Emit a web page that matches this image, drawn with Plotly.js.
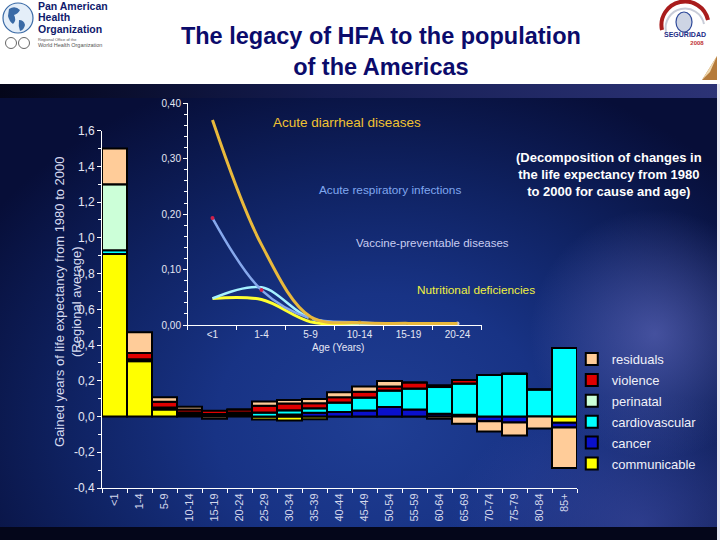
<!DOCTYPE html>
<html>
<head>
<meta charset="utf-8">
<script src="https://cdn.plot.ly/plotly-3.0.1.min.js"></script>
<style>
  html, body { margin: 0; padding: 0; width: 720px; height: 540px; overflow: hidden; background: #ffffff; }
  #bg {
    position: absolute; left: 0; top: 84px; width: 720px; height: 456px;
    background:
      radial-gradient(circle 125px at 655px 250px, rgba(112,118,205,0.55), rgba(112,118,205,0) 100%),
      radial-gradient(ellipse 190px 130px at 640px 440px, rgba(80,90,185,0.45), rgba(80,90,185,0) 100%),
      radial-gradient(ellipse 470px 370px at 380px 340px, #1f3e94 0%, #183385 35%, #0f2262 66%, #070e38 100%);
  }
  #band { position: absolute; left: 0; top: 84px; width: 720px; height: 14px;
    background: linear-gradient(90deg, #04061a 0%, #141c50 45%, #2c3376 100%); }
  #foot { position: absolute; left: 0; top: 527px; width: 720px; height: 13px; background: #04061a; }
  #edge { position: absolute; left: 717px; top: 84px; width: 3px; height: 456px; background: #e6e8f2; }
  #chart { position: absolute; left: 0; top: 0; width: 720px; height: 540px; }
  svg.logo { position: absolute; top: 0; }
</style>
</head>
<body>
<div id="bg"></div>
<div id="band"></div>
<div id="foot"></div>
<div id="edge"></div>

<!-- organisation logo, top left -->
<svg class="logo" style="left:0" width="120" height="54">
  <circle cx="18" cy="18" r="15" fill="#e4eef9" stroke="#3a6aa6" stroke-width="1.2"/>
  <path d="M9,9 q6,-4 11,1 q-2,4 -6,5 q3,5 -1,9 q-4,-3 -5,-8 z" fill="#3a6aa6"/>
  <path d="M19,20 q5,0 6,5 q-1,5 -5,6 q-2,-5 -1,-11 z" fill="#3a6aa6"/>
  <text x="38" y="9.5" font-family="Liberation Sans" font-weight="bold" font-size="10.5" fill="#0f1a6c">Pan American</text>
  <text x="38" y="21" font-family="Liberation Sans" font-weight="bold" font-size="10.5" fill="#0f1a6c">Health</text>
  <text x="38" y="32.5" font-family="Liberation Sans" font-weight="bold" font-size="10.5" fill="#0f1a6c">Organization</text>
  <circle cx="11" cy="43" r="5.5" fill="none" stroke="#666" stroke-width="1"/>
  <circle cx="24" cy="43" r="5.5" fill="none" stroke="#666" stroke-width="1"/>
  <text x="38" y="41" font-family="Liberation Sans" font-size="4" fill="#555">Regional Office of the</text>
  <text x="38" y="47" font-family="Liberation Sans" font-size="5.5" fill="#555">World Health Organization</text>
</svg>

<!-- event logo, top right -->
<svg class="logo" style="left:650px" width="70" height="84">
  <path d="M12,30 A22,22 0 0 1 58,20" stroke="#a81c1c" stroke-width="4" fill="none"/>
  <path d="M16,32 A19,19 0 0 1 54,24" stroke="#c8ccd8" stroke-width="2" fill="none"/>
  <ellipse cx="34" cy="22" rx="8" ry="10" fill="#cdd4e4" stroke="#2f4a9a" stroke-width="1.2"/>
  <text x="35" y="37" text-anchor="middle" font-family="Liberation Sans" font-weight="bold" font-size="7" fill="#1c2c86">SEGURIDAD</text>
  <text x="47" y="44.5" text-anchor="middle" font-family="Liberation Sans" font-weight="bold" font-size="6" fill="#c03434">2008</text>
  <path d="M52,80 L67,56 L67,80 Z" fill="#b57a3a"/>
  <path d="M52,80 L67,56 L60,72 Z" fill="#f0d9b0"/>
</svg>

<div id="chart"></div>

<script>
// Age groups of the main decomposition chart
const ageGroups = ['<1', '1-4', '5-9', '10-14', '15-19', '20-24', '25-29', '30-34', '35-39',
  '40-44', '45-49', '50-54', '55-59', '60-64', '65-69', '70-74', '75-79', '80-84', '85+'];

// Gained years of life expectancy by cause (stacked per age group)
const communicable   = [0.91, 0.31, 0.039, 0.012, 0.008, 0.005, -0.017, -0.022, -0.015, 0, 0, 0, 0, 0, 0, 0, 0, 0, -0.035];
const cancer         = [0, 0.01, 0.012, 0.01, 0.006, 0.008, 0, 0.011, 0.021, 0.026, 0.034, 0.053, 0.04, 0.015, 0.01, -0.027, -0.034, 0, -0.027];
const cardiovascular = [0.02, 0, 0, 0, 0, 0.01, 0.022, 0.024, 0.025, 0.053, 0.072, 0.092, 0.117, 0.15, 0.175, 0.233, 0.239, 0.151, 0.383];
const perinatal      = [0.37, 0, 0, 0, 0, 0, 0, 0, 0, 0, 0, 0, 0, 0, 0, 0, 0, 0, 0];
const violence       = [0, 0.035, 0.032, 0.018, 0.018, 0.017, 0.038, 0.038, 0.029, 0.029, 0.032, 0.023, 0.033, 0.01, 0.02, 0, 0, 0, 0];
const residuals      = [0.20, 0.117, 0.025, 0.015, -0.012, 0, 0.024, 0.02, 0.023, 0.028, 0.03, 0.031, 0, -0.012, -0.041, -0.057, -0.072, -0.067, -0.226];

// Inset: contribution of selected communicable causes, young ages
const insetAges   = ['<1', '1-4', '5-9', '10-14', '15-19', '20-24'];
const diarrheal   = [0.37, 0.145, 0.015, 0.004, 0.003, 0.003];
const respiratory = [0.193, 0.063, 0.012, 0.005, 0.001, 0.003];
const vaccine     = [0.048, 0.068, 0.012, 0.003, 0.002, 0.002];
const nutritional = [0.048, 0.046, 0.006, 0.001, 0.002, 0.002];

// Axis tick labels (comma decimals)
const yTickVals  = [-0.4, -0.2, 0, 0.2, 0.4, 0.6, 0.8, 1.0, 1.2, 1.4, 1.6];
const yTickText  = ['-0,4', '-0,2', '0,0', '0,2', '0,4', '0,6', '0,8', '1,0', '1,2', '1,4', '1,6'];
const y2TickVals = [0, 0.1, 0.2, 0.3, 0.4];
const y2TickText = ['0,00', '0,10', '0,20', '0,30', '0,40'];

const causeColors = {
  communicable: '#ffff00',
  cancer: '#0a10cc',
  cardiovascular: '#00ffff',
  perinatal: '#ccffd8',
  violence: '#e00000',
  residuals: '#ffcc99'
};

// Legend lists causes from the top of the stack downwards
const legendRank = {
  residuals: 1, violence: 2, perinatal: 3, cardiovascular: 4, cancer: 5, communicable: 6
};

function causeBar(name, values) {
  return {
    type: 'bar', name: name, x: ageGroups, y: values,
    xaxis: 'x', yaxis: 'y', legendgroup: name, legendrank: legendRank[name],
    marker: { color: causeColors[name], line: { color: '#000000', width: 2 } },
    hoverinfo: 'skip'
  };
}

function insetLine(values, color, width, extra) {
  return Object.assign({
    type: 'scatter', mode: 'lines', x: insetAges, y: values,
    xaxis: 'x2', yaxis: 'y2', showlegend: false, hoverinfo: 'skip',
    line: { color: color, width: width, shape: 'spline', smoothing: 1 }
  }, extra || {});
}

const traces = [
  causeBar('communicable', communicable),
  causeBar('cancer', cancer),
  causeBar('cardiovascular', cardiovascular),
  causeBar('perinatal', perinatal),
  causeBar('violence', violence),
  causeBar('residuals', residuals),
  insetLine(nutritional, '#ffff30', 3),
  insetLine(vaccine, '#a6f2ff', 2.5),
  insetLine(respiratory, '#86a8ec', 2.5, {
    mode: 'lines+markers',
    marker: { size: 4, color: ['#d0204a', '#d0204a', '#6b5a2a', '#6b5a2a', '#6b5a2a', '#c8c8d8'] }
  }),
  insetLine(diarrheal, '#e9b93c', 3)
];

const textColor = '#e4e6f4';

const layout = {
  width: 720, height: 540,
  margin: { l: 102, r: 143, t: 100, b: 52 },
  paper_bgcolor: 'rgba(0,0,0,0)',
  plot_bgcolor: 'rgba(0,0,0,0)',
  barmode: 'relative',
  bargap: 0,
  separators: ', ',
  font: { family: 'Liberation Sans, Arial, sans-serif', color: textColor, size: 12 },
  title: {
    text: '<b>The legacy of HFA to the population<br>of the Americas</b>',
    font: { family: 'Liberation Sans, Arial, sans-serif', size: 23.5, color: '#0b0b6b' },
    x: 0.529, xanchor: 'center', xref: 'container',
    y: 0.918, yanchor: 'middle', yref: 'container'
  },
  showlegend: true,
  legend: {
    x: 0.989, xanchor: 'left', y: 0.371, yanchor: 'top',
    traceorder: 'grouped', tracegroupgap: 1,
    bgcolor: 'rgba(0,0,0,0)',
    font: { size: 13, color: '#f0f0f8' }
  },
  xaxis: {
    domain: [0, 1], anchor: 'y', type: 'category', range: [-0.5, 18.5],
    tickson: 'boundaries', ticks: 'outside', ticklen: 4, tickcolor: '#ffffff',
    showline: true, linecolor: '#ffffff', linewidth: 1,
    showgrid: false, zeroline: false, tickangle: -90,
    tickfont: { family: 'Liberation Sans Narrow, Liberation Sans, sans-serif', size: 11, color: '#d4d8ec' }
  },
  yaxis: {
    domain: [0, 0.921], anchor: 'x', range: [-0.4, 1.6],
    tickvals: yTickVals, ticktext: yTickText,
    ticks: 'outside', ticklen: 4, tickcolor: '#ffffff',
    minor: { dtick: 0.1, ticks: 'outside', ticklen: 3, tickcolor: '#ffffff', showgrid: false },
    showline: true, linecolor: '#ffffff', linewidth: 1,
    showgrid: false, zeroline: false,
    tickfont: { size: 12, color: textColor }
  },
  xaxis2: {
    domain: [0.181, 0.8], anchor: 'y2', type: 'category', range: [-0.5, 5.5],
    tickson: 'boundaries', ticks: 'outside', ticklen: 4, tickcolor: '#ffffff',
    showline: true, linecolor: '#ffffff', linewidth: 1,
    showgrid: false, zeroline: false,
    tickfont: { size: 10, color: textColor }
  },
  yaxis2: {
    domain: [0.42, 0.9915], anchor: 'x2', range: [0, 0.4],
    tickvals: y2TickVals, ticktext: y2TickText,
    ticks: 'outside', ticklen: 4, tickcolor: '#ffffff',
    minor: { dtick: 0.02, ticks: 'outside', ticklen: 3, tickcolor: '#ffffff', showgrid: false },
    showline: true, linecolor: '#ffffff', linewidth: 1,
    showgrid: false, zeroline: false,
    tickfont: { size: 10, color: textColor }
  },
  annotations: [
    {
      text: 'Gained years of life expectancy from 1980 to 2000<br>(Regional average)',
      xref: 'paper', yref: 'paper', x: -0.0716, y: 0.482,
      xanchor: 'center', yanchor: 'middle', textangle: -90, showarrow: false,
      font: { size: 13, color: '#d6daf0' }
    },
    {
      text: 'Age (Years)', xref: 'paper', yref: 'paper', x: 0.497, y: 0.363,
      xanchor: 'center', yanchor: 'middle', showarrow: false,
      font: { size: 10, color: textColor }
    },
    {
      text: '<b>(Decomposition of changes in<br>the life expectancy from 1980<br>to 2000 for cause and age)</b>',
      xref: 'paper', yref: 'paper', x: 1.067, y: 0.809,
      xanchor: 'center', yanchor: 'middle', showarrow: false,
      font: { size: 13, color: '#ffffff' }
    },
    {
      text: 'Acute diarrheal diseases', xref: 'paper', yref: 'paper', x: 0.516, y: 0.943,
      xanchor: 'center', yanchor: 'middle', showarrow: false,
      font: { size: 13.5, color: '#f0c232' }
    },
    {
      text: 'Acute respiratory infections', xref: 'paper', yref: 'paper', x: 0.606, y: 0.768,
      xanchor: 'center', yanchor: 'middle', showarrow: false,
      font: { size: 11.8, color: '#80a8f0' }
    },
    {
      text: 'Vaccine-preventable diseases', xref: 'paper', yref: 'paper', x: 0.695, y: 0.631,
      xanchor: 'center', yanchor: 'middle', showarrow: false,
      font: { size: 11.5, color: '#c8ccf0' }
    },
    {
      text: 'Nutritional deficiencies', xref: 'paper', yref: 'paper', x: 0.787, y: 0.510,
      xanchor: 'center', yanchor: 'middle', showarrow: false,
      font: { size: 11.8, color: '#f0f040' }
    }
  ]
};

Plotly.newPlot('chart', traces, layout, { staticPlot: true, displayModeBar: false });
</script>
</body>
</html>
